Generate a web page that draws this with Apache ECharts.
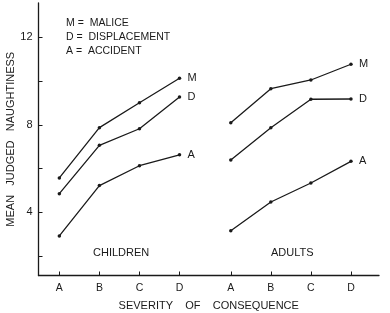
<!DOCTYPE html>
<html lang="en">

<head>
    <meta charset="UTF-8">
    <title>Naughtiness</title>
    <style>
        * {
            margin: 0;
            padding: 0;
        }

        body {
            background: #fff;
        }

        .box {
            width: 390px;
            height: 313px;
        }
    </style>
</head>

<body>
    <div class="box"></div>

    <script src="https://cdn.jsdelivr.net/npm/echarts@6/dist/echarts.min.js"></script>
    <script>
        var categories = ['A', 'B', 'C', 'D'];
        var yTicks = [2, 4, 6, 8, 10, 12];
        var yLabels = [4, 8, 12];

        var childMalice = [5.57, 7.87, 9.01, 10.13];
        var childDisplacement = [4.85, 7.06, 7.82, 9.27];
        var childAccident = [2.92, 5.22, 6.13, 6.63];

        var adultMalice = [8.1, 9.65, 10.05, 10.77];
        var adultDisplacement = [6.39, 7.87, 9.17, 9.18];
        var adultAccident = [3.16, 4.47, 5.34, 6.33];

        // where each group's "A" sits on the x axis (1 unit = one category step)
        var childStart = 0.52;
        var adultStart = 4.8;

        var font = "'Liberation Sans', Arial, sans-serif";
        var ink = '#1a1a1a';

        var chart = echarts.init(document.querySelector('.box'));

        function points(start, values) {
            return values.map(function (v, i) {
                return [start + i, v];
            });
        }

        var xTickValues = [];
        categories.forEach(function (c, i) { xTickValues.push(childStart + i); });
        categories.forEach(function (c, i) { xTickValues.push(adultStart + i); });

        function makeLine(start, values, tag) {
            return {
                type: 'line',
                data: points(start, values),
                symbol: 'circle',
                symbolSize: 3.5,
                itemStyle: { color: ink },
                lineStyle: { color: ink, width: 1.3 },
                silent: true,
                endLabel: {
                    show: true,
                    formatter: tag,
                    distance: 8,
                    color: ink,
                    fontFamily: font,
                    fontSize: 11
                }
            };
        }

        var option = {
            backgroundColor: '#fff',
            animation: false,
            grid: {
                left: 38.5,
                right: 11,
                top: 3,
                bottom: 37.5,
                outerBoundsMode: 'none'
            },
            xAxis: {
                type: 'value',
                min: 0,
                max: 8.5,
                name: 'SEVERITY    OF    CONSEQUENCE',
                nameLocation: 'middle',
                nameGap: 25,
                nameMoveOverlap: false,
                nameTextStyle: { color: ink, fontFamily: font, fontSize: 11 },
                splitLine: { show: false },
                axisLine: { lineStyle: { color: ink, width: 1.3 } },
                axisTick: {
                    inside: true,
                    length: 4,
                    customValues: xTickValues,
                    lineStyle: { color: ink }
                },
                axisLabel: {
                    customValues: xTickValues,
                    margin: 7,
                    color: ink,
                    fontFamily: font,
                    fontSize: 10.5,
                    formatter: function (v) {
                        var i = Math.round(v < adultStart - 0.5 ? v - childStart : v - adultStart);
                        return categories[i];
                    }
                }
            },
            yAxis: {
                type: 'value',
                min: 1.11,
                max: 13.57,
                name: 'MEAN   JUDGED   NAUGHTINESS',
                nameLocation: 'middle',
                nameGap: 22,
                nameMoveOverlap: false,
                nameTextStyle: { color: ink, fontFamily: font, fontSize: 11 },
                splitLine: { show: false },
                axisLine: { show: true, lineStyle: { color: ink, width: 1.3 } },
                axisTick: {
                    show: true,
                    inside: true,
                    length: 4,
                    customValues: yTicks,
                    lineStyle: { color: ink }
                },
                axisLabel: {
                    customValues: yLabels,
                    margin: 6,
                    color: ink,
                    fontFamily: font,
                    fontSize: 11
                }
            },
            graphic: [
                {
                    type: 'text', left: 66, top: 18,
                    style: { text: 'M =  MALICE', fill: ink, font: '10.5px ' + font }
                },
                {
                    type: 'text', left: 66, top: 32,
                    style: { text: 'D =  DISPLACEMENT', fill: ink, font: '10.5px ' + font }
                },
                {
                    type: 'text', left: 66, top: 46,
                    style: { text: 'A =  ACCIDENT', fill: ink, font: '10.5px ' + font }
                },
                {
                    type: 'text', left: 93, top: 247,
                    style: { text: 'CHILDREN', fill: ink, font: '11px ' + font }
                },
                {
                    type: 'text', left: 271, top: 247,
                    style: { text: 'ADULTS', fill: ink, font: '11px ' + font }
                }
            ],
            series: [
                makeLine(childStart, childMalice, 'M'),
                makeLine(childStart, childDisplacement, 'D'),
                makeLine(childStart, childAccident, 'A'),
                makeLine(adultStart, adultMalice, 'M'),
                makeLine(adultStart, adultDisplacement, 'D'),
                makeLine(adultStart, adultAccident, 'A')
            ]
        };

        chart.setOption(option);
    </script>
</body>

</html>
